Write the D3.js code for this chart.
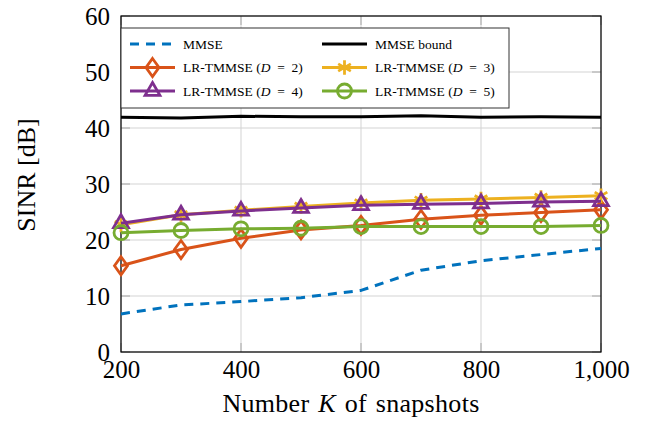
<!DOCTYPE html>
<html><head><meta charset="utf-8">
<script src="https://cdn.jsdelivr.net/npm/d3@7"></script>
<style>
html,body{margin:0;padding:0;background:#fff;}
svg text{font-family:"Liberation Serif","Times New Roman",serif;fill:#000;}
</style></head>
<body>
<svg id="chart" width="647" height="423"></svg>
<script>
// ---- data ----
const snapshots = [200, 300, 400, 500, 600, 700, 800, 900, 1000];
const mmse      = [6.8, 8.4, 9.0, 9.7, 11.0, 14.6, 16.3, 17.4, 18.5];
const mmseBound = [41.9, 41.8, 42.1, 42.0, 42.0, 42.2, 41.9, 42.0, 41.9];
const lrD2      = [15.4, 18.3, 20.3, 21.8, 22.6, 23.7, 24.4, 24.9, 25.4];
const lrD3      = [22.7, 24.5, 25.3, 26.0, 26.6, 27.1, 27.3, 27.6, 27.9];
const lrD4      = [23.0, 24.5, 25.2, 25.7, 26.2, 26.4, 26.5, 26.8, 26.9];
const lrD5      = [21.3, 21.7, 22.0, 22.1, 22.4, 22.4, 22.4, 22.4, 22.6];
const xTicks = [200, 400, 600, 800, 1000];
const yTicks = [0, 10, 20, 30, 40, 50, 60];
const seriesNames = ["MMSE", "MMSE bound", "D2", "D3", "D4", "D5"];

const svg = d3.select("#chart");
const x = d3.scaleLinear().domain([200, 1000]).range([121, 601]);
const y = d3.scaleLinear().domain([0, 60]).range([352, 16]);

// grid
const grid = svg.append("g");
grid.selectAll(".vg").data(xTicks).join("line")
  .attr("x1", d => x(d)).attr("x2", d => x(d)).attr("y1", y(0)).attr("y2", y(60))
  .attr("stroke", "#d3d3d3").attr("stroke-width", 1);
grid.selectAll(".hg").data(yTicks).join("line")
  .attr("x1", x(200)).attr("x2", x(1000)).attr("y1", d => y(d)).attr("y2", d => y(d))
  .attr("stroke", "#d3d3d3").attr("stroke-width", 1);
// inner ticks
const tk = svg.append("g").attr("stroke", "#a8a8a8").attr("stroke-width", 1);
yTicks.forEach(t => {
  tk.append("line").attr("x1", x(200)).attr("x2", x(200) + 9).attr("y1", y(t)).attr("y2", y(t));
  tk.append("line").attr("x1", x(1000) - 9).attr("x2", x(1000)).attr("y1", y(t)).attr("y2", y(t));
});
xTicks.forEach(t => {
  tk.append("line").attr("x1", x(t)).attr("x2", x(t)).attr("y1", y(0)).attr("y2", y(0) - 9);
  tk.append("line").attr("x1", x(t)).attr("x2", x(t)).attr("y1", y(60)).attr("y2", y(60) + 9);
});

// axes via d3 axis (labels only)
const xAxis = svg.append("g").attr("transform", `translate(0,${y(0)})`)
  .call(d3.axisBottom(x).tickValues(xTicks).tickSize(0).tickPadding(0).tickFormat(d3.format(",")));
xAxis.select(".domain").remove();
xAxis.selectAll("text").attr("font-size", 25).attr("font-family", "Liberation Serif").attr("dy", null).attr("y", 26);

const yAxis = svg.append("g").attr("transform", `translate(${x(200)},0)`)
  .call(d3.axisLeft(y).tickValues(yTicks).tickSize(0).tickPadding(11));
yAxis.select(".domain").remove();
yAxis.selectAll("text").attr("font-size", 25).attr("font-family", "Liberation Serif").attr("dy", "0.34em");

// frame
svg.append("rect").attr("x", x(200)).attr("y", y(60)).attr("width", x(1000) - x(200)).attr("height", y(0) - y(60))
  .attr("fill", "none").attr("stroke", "#000").attr("stroke-width", 1.2);

// titles
svg.append("text").attr("x", 351).attr("y", 412).attr("text-anchor", "middle").attr("font-size", 26)
  .attr("letter-spacing", 0.3).attr("word-spacing", 2)
  .call(t => { t.append("tspan").text("Number "); t.append("tspan").attr("font-style", "italic").text("K"); t.append("tspan").text(" of snapshots"); });
svg.append("text").attr("transform", "translate(35,175) rotate(-90)").attr("text-anchor", "middle").attr("font-size", 26)
  .text("SINR [dB]");

// symbols
const diamond = "M0,-9L6.5,0L0,9L-6.5,0Z";
const tri = d3.symbol(d3.symbolTriangle, 95)();
const ast = d3.symbol(d3.symbolAsterisk, 150)();
const circ = d3.symbol(d3.symbolCircle, Math.PI * 49)();

const line = d3.line().x((d, i) => x(snapshots[i])).y(d => y(d));
const styles = [
  {name: "MMSE", data: mmse, color: "#0072BD", dash: "9,7", sym: null},
  {name: "MMSE bound", data: mmseBound, color: "#000000", dash: null, sym: null},
  {name: "D2", data: lrD2, color: "#D95319", dash: null, sym: diamond, d: 2},
  {name: "D3", data: lrD3, color: "#EDB120", dash: null, sym: ast, d: 3},
  {name: "D4", data: lrD4, color: "#7E2F8E", dash: null, sym: tri, d: 4},
  {name: "D5", data: lrD5, color: "#77AC30", dash: null, sym: circ, d: 5}
];
const plot = svg.append("g");
styles.forEach(s => {
  plot.append("path").attr("d", line(s.data)).attr("fill", "none").attr("stroke", s.color)
    .attr("stroke-width", 3).attr("stroke-dasharray", s.dash).attr("stroke-linejoin", "round");
  if (s.sym) {
    plot.selectAll(null).data(s.data).join("path")
      .attr("transform", (d, i) => `translate(${x(snapshots[i])},${y(d)})`)
      .attr("d", s.sym).attr("fill", "none").attr("stroke", s.color).attr("stroke-width", 2.8);
  }
});

// legend
const lg = svg.append("g");
lg.append("rect").attr("x", 121).attr("y", 28).attr("width", 388).attr("height", 80)
  .attr("fill", "#fff").attr("stroke", "#333").attr("stroke-width", 1);
const cols = [130, 322], rows = [44, 67.5, 91];
styles.forEach((s, i) => {
  const cx = cols[i % 2], cy = rows[Math.floor(i / 2)];
  lg.append("line").attr("x1", cx).attr("x2", cx + 45).attr("y1", cy).attr("y2", cy)
    .attr("stroke", s.color).attr("stroke-width", 3).attr("stroke-dasharray", s.dash);
  if (s.sym) lg.append("path").attr("transform", `translate(${cx + 22.5},${cy})`).attr("d", s.sym)
    .attr("fill", "none").attr("stroke", s.color).attr("stroke-width", 2.8);
  const t = lg.append("text").attr("x", cx + 53).attr("y", cy).attr("dy", "0.35em").attr("font-size", 13.5);
  if (s.d) {
    t.append("tspan").text("LR-TMMSE (");
    t.append("tspan").attr("font-style", "italic").text("D");
    t.append("tspan").attr("xml:space", "preserve").text("\u2002=\u2002" + s.d + ")");
  } else t.text(s.name);
});
</script>
</body></html>
